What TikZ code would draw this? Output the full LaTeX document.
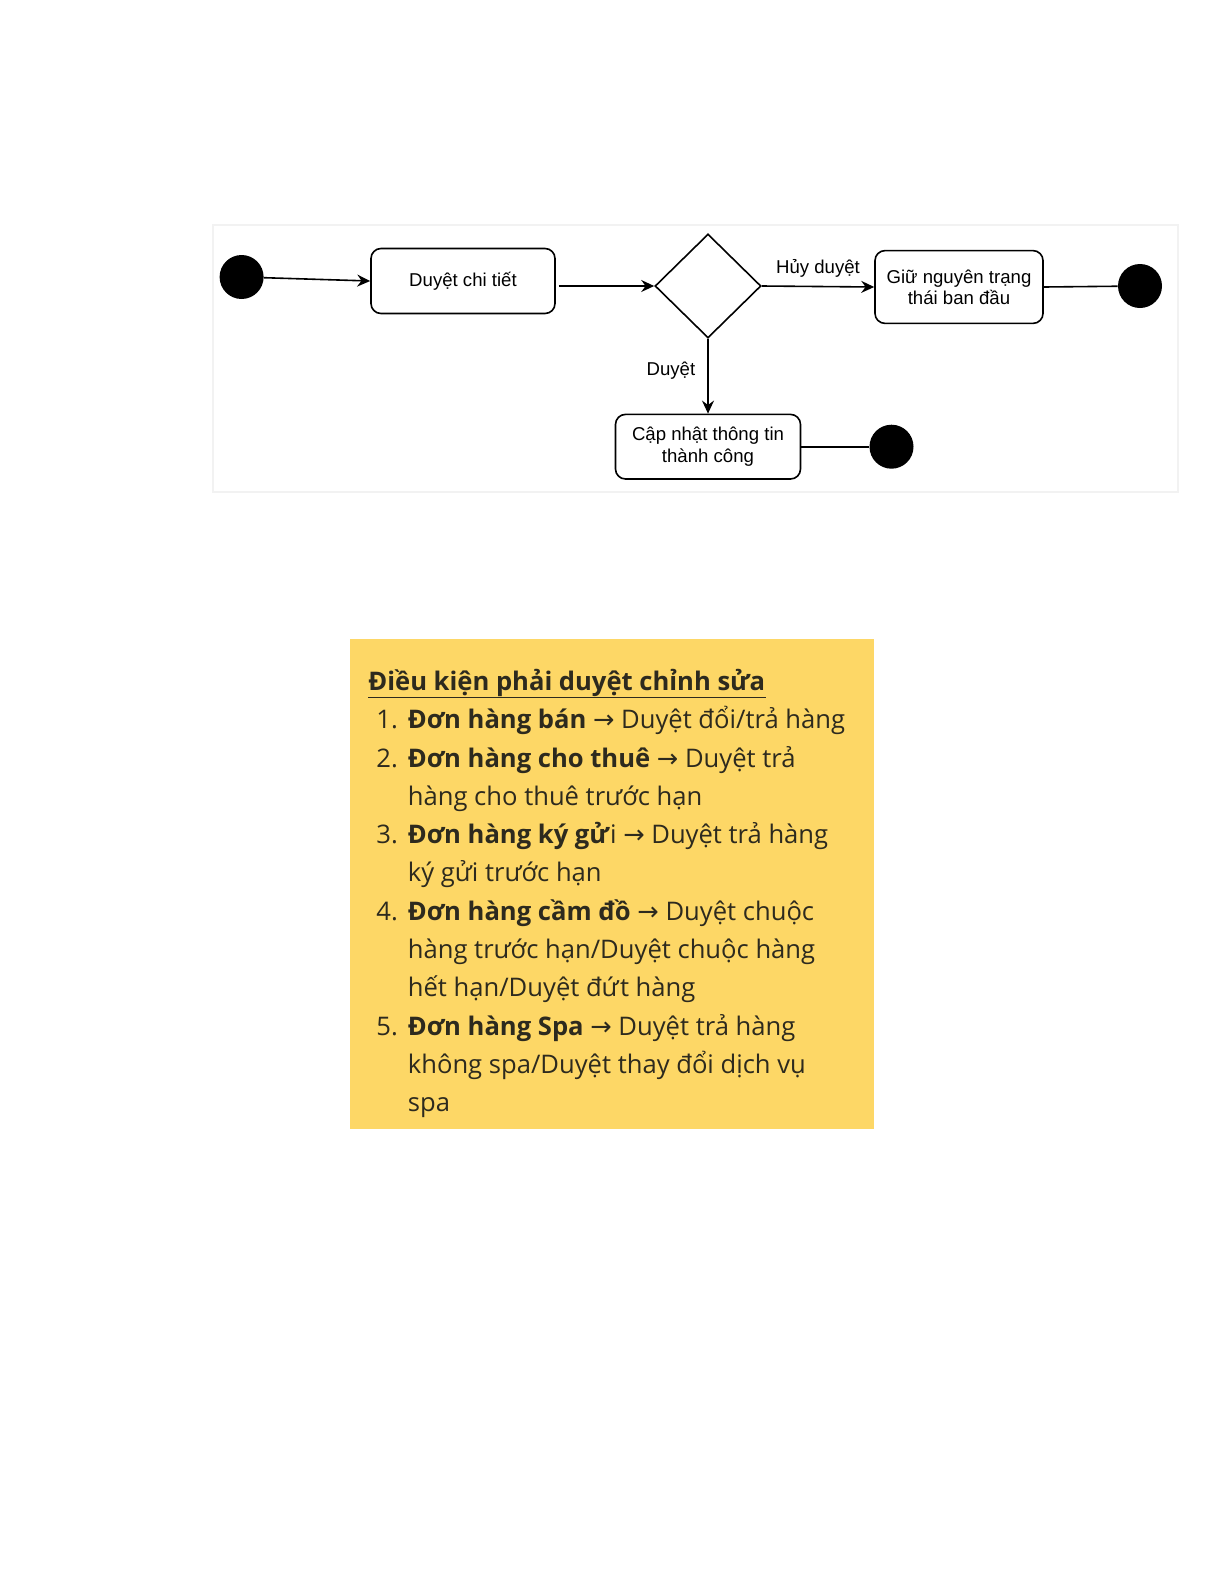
\documentclass[tikz,border=0pt]{standalone}
\usepackage{fontspec}
\setmainfont{Liberation Sans}
\newfontfamily\docfont{Open Sans}
\newfontfamily\arrfont{DejaVu Sans}
\usetikzlibrary{arrows.meta,shapes.geometric}
\definecolor{callout}{RGB}{253,215,102}
\definecolor{calltext}{RGB}{45,42,30}
\begin{document}
\begin{tikzpicture}[x=0.5pt,y=-0.5pt,
  state/.style={draw, rounded corners=5pt, line width=0.8pt, align=center,
    font=\fontsize{9.3}{10.6}\selectfont, inner sep=0pt},
  dot/.style={circle, fill=black, minimum size=22pt, inner sep=0pt},
  flow/.style={-{Stealth[length=6.5pt,width=6pt,inset=2.2pt]}, line width=0.8pt},
  plain/.style={line width=0.8pt},
  lbl/.style={font=\fontsize{9.3}{10.6}\selectfont, inner sep=0pt},
  txt/.style={font=\docfont\fontsize{12.8}{15}\selectfont, text=calltext, inner sep=0pt, anchor=base west}
]
\useasboundingbox (0,0) rectangle (1225,1585);
% panel
\fill[white] (213,225) rectangle (1178,492);
\draw[black!5, line width=0.8pt] (213,225) rectangle (1178,492);

\node[dot] (start) at (241.6,277) {};
\node[state, minimum width=92pt, minimum height=32.5pt] (b1) at (463,281) {Duyệt chi tiết};
\node[diamond, draw, line width=0.8pt, minimum width=53pt, minimum height=52pt, inner sep=0pt] (d) at (708,286) {};
\node[state, minimum width=84pt, minimum height=36.4pt] (b2) at (959,287) {Giữ nguyên trạng\\thái ban đầu};
\node[dot] (e1) at (1140,286) {};
\node[state, minimum width=92.5pt, minimum height=32.3pt] (b3) at (708,446.7) {Cập nhật thông tin\\thành công};
\node[dot] (e2) at (891.5,446.7) {};

\draw[flow] (start) -- (b1.west);
\draw[flow, shorten <=1.5pt] (b1.east |- d.west) -- (d.west);
\draw[flow] (d.east) -- (b2.west) node[lbl, midway, above=4pt] {Hủy duyệt};
\draw[plain] (b2.east) -- (e1);
\draw[flow] (d.south) -- (b3.north) node[lbl, pos=0.42, left=6pt] {Duyệt};
\draw[plain] (b3.east) -- (e2);

% callout
\fill[callout] (349.7,639) rectangle (873.5,1129);
\node[txt] (t0) at (368,690) {\bfseries Điều kiện phải duyệt chỉnh sửa};
\draw[calltext, line width=0.7pt] ([yshift=-0.5pt]t0.south west) -- ([yshift=-0.5pt]t0.south east);
\node[txt] (n1) at (376,728.7) {1.};
\node[txt] (l1) at (407.5,728.7) {\textbf{Đơn hàng bán} {\arrfont →} Duyệt đổi/trả hàng};
\node[txt] (n2) at (376,767) {2.};
\node[txt] (l2) at (407.5,767) {\textbf{Đơn hàng cho thuê} {\arrfont →} Duyệt trả};
\node[txt] (l2b) at (407.5,805.3) {hàng cho thuê trước hạn};
\node[txt] (n3) at (376,843.6) {3.};
\node[txt] (l3) at (407.5,843.6) {\textbf{Đơn hàng ký gử}i {\arrfont →} Duyệt trả hàng};
\node[txt] (l3b) at (407.5,881.9) {ký gửi trước hạn};
\node[txt] (n4) at (376,920.2) {4.};
\node[txt] (l4) at (407.5,920.2) {\textbf{Đơn hàng cầm đồ} {\arrfont →} Duyệt chuộc};
\node[txt] (l4b) at (407.5,958.5) {hàng trước hạn/Duyệt chuộc hàng};
\node[txt] (l4c) at (407.5,996.8) {hết hạn/Duyệt đứt hàng};
\node[txt] (n5) at (376,1035.1) {5.};
\node[txt] (l5) at (407.5,1035.1) {\textbf{Đơn hàng Spa} {\arrfont →} Duyệt trả hàng};
\node[txt] (l5b) at (407.5,1073.4) {không spa/Duyệt thay đổi dịch vụ};
\node[txt] (l5c) at (407.5,1111.7) {spa};
\end{tikzpicture}
\end{document}
